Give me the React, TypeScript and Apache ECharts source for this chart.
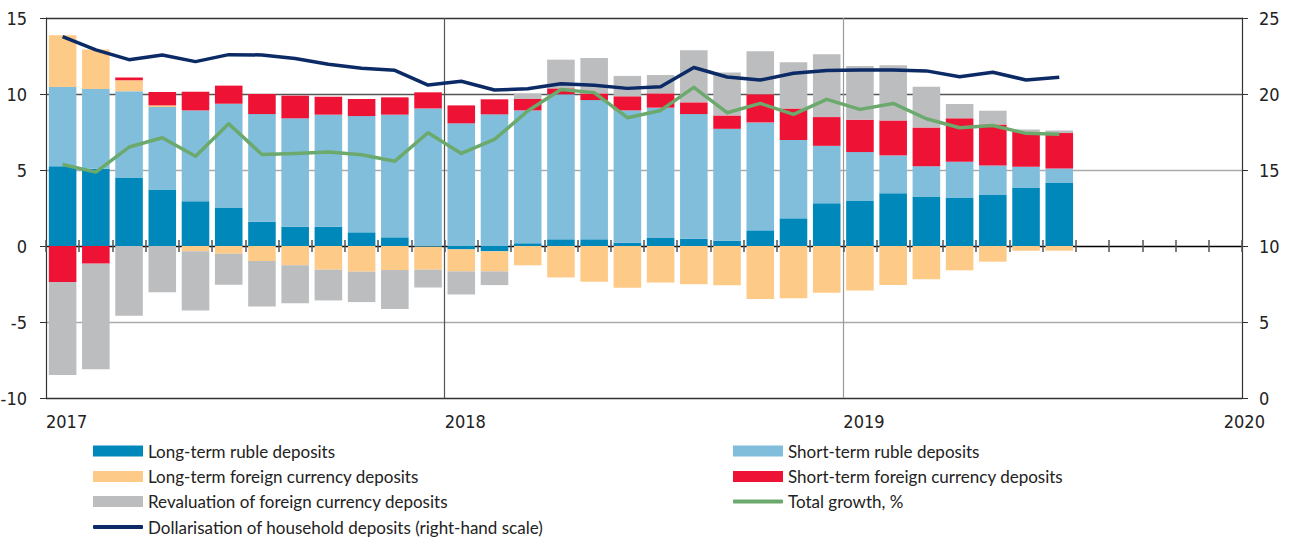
import React, { useEffect, useRef } from "react";
import * as echarts from "echarts";

const months = [
  "2017-01", "2017-02", "2017-03", "2017-04", "2017-05", "2017-06",
  "2017-07", "2017-08", "2017-09", "2017-10", "2017-11", "2017-12",
  "2018-01", "2018-02", "2018-03", "2018-04", "2018-05", "2018-06",
  "2018-07", "2018-08", "2018-09", "2018-10", "2018-11", "2018-12",
  "2019-01", "2019-02", "2019-03", "2019-04", "2019-05", "2019-06",
  "2019-07", "2019-08", "2019-09", "2019-10", "2019-11", "2019-12",
];

const yearLabels = ["2017", "2018", "2019", "2020"];

const longTermRuble = [
  5.25, 5.08, 4.51, 3.71, 2.95, 2.53, 1.6, 1.27, 1.27, 0.9, 0.57, -0.05,
  -0.22, -0.35, 0.18, 0.44, 0.44, 0.22, 0.53, 0.48, 0.35, 1.03, 1.82, 2.81,
  2.99, 3.47, 3.25, 3.19, 3.38, 3.85, 4.18,
];
const shortTermRuble = [
  5.21, 5.25, 5.67, 5.43, 5.97, 6.83, 7.08, 7.13, 7.37, 7.65, 8.07, 9.05,
  8.07, 8.66, 8.74, 9.54, 9.16, 8.7, 8.57, 8.2, 7.36, 7.1, 5.15, 3.78,
  3.19, 2.49, 2.0, 2.35, 1.92, 1.36, 0.92,
];
const longTermFx = [
  3.41, 2.59, 0.72, 0.11, -0.35, -0.51, -0.99, -1.27, -1.56, -1.69, -1.58, -1.51,
  -1.45, -1.32, -1.27, -2.07, -2.35, -2.75, -2.4, -2.51, -2.59, -3.49, -3.43, -3.08,
  -2.92, -2.57, -2.18, -1.6, -1.03, -0.31, -0.31,
];
const shortTermFx = [
  -2.37, -1.16, 0.18, 0.88, 1.23, 1.19, 1.32, 1.49, 1.18, 1.12, 1.14, 1.06,
  1.18, 0.99, 0.75, 0.39, 0.44, 0.93, 0.94, 0.77, 0.88, 1.85, 2.08, 1.89,
  2.13, 2.3, 2.55, 2.86, 2.7, 2.31, 2.33,
];
const revaluation = [
  -6.11, -6.95, -4.59, -3.05, -3.89, -2.04, -2.99, -2.49, -2.02, -2.0, -2.57, -1.17,
  -1.52, -0.9, 0.35, 1.89, 2.33, 1.34, 1.21, 3.43, 2.82, 2.83, 3.04, 4.14,
  3.54, 3.63, 2.68, 0.94, 0.9, 0.15, 0.17,
];
const totalGrowth = [
  5.36, 4.86, 6.51, 7.12, 5.91, 8.04, 6.02, 6.09, 6.18, 6.0, 5.58, 7.45,
  6.09, 7.01, 8.88, 10.29, 10.09, 8.44, 8.92, 10.44, 8.77, 9.38, 8.66, 9.65,
  8.99, 9.38, 8.37, 7.78, 7.93, 7.41, 7.36,
];
const dollarisation = [
  23.78, 22.9, 22.26, 22.57, 22.13, 22.59, 22.57, 22.33, 21.96, 21.69, 21.56, 20.59,
  20.84, 20.26, 20.35, 20.68, 20.57, 20.37, 20.48, 21.74, 21.12, 20.92, 21.36, 21.54,
  21.58, 21.58, 21.52, 21.14, 21.43, 20.92, 21.1,
];

const NAMES = {
  ltr: "Long-term ruble deposits",
  str: "Short-term ruble deposits",
  ltfx: "Long-term foreign currency deposits",
  stfx: "Short-term foreign currency deposits",
  rev: "Revaluation of foreign currency deposits",
  total: "Total growth, %",
  dollar: "Dollarisation of household deposits (right-hand scale)",
};

const COLORS = {
  ltr: "#0088BA",
  str: "#80BEDB",
  ltfx: "#FECA87",
  stfx: "#EE1234",
  rev: "#BCBDBF",
  total: "#6CA96C",
  dollar: "#0B2A66",
};

const AXIS_FONT = "'Liberation Sans Narrow', 'DejaVu Sans Condensed', Arial, sans-serif";
const LEGEND_FONT = "Lato, 'Liberation Sans', sans-serif";

export default function App() {
  const ref = useRef<HTMLDivElement>(null);

  useEffect(() => {
    if (!ref.current) return;
    const chart = echarts.init(ref.current, undefined, { renderer: "svg" });

    const bar = (key: keyof typeof NAMES, data: number[]) => ({
      name: NAMES[key],
      type: "bar",
      stack: "total",
      xAxisIndex: 0,
      yAxisIndex: 0,
      barCategoryGap: "17%",
      data,
      itemStyle: { color: COLORS[key] },
      emphasis: { disabled: true },
      z: 2,
    });

    const legendItem = (key: keyof typeof NAMES, left: number, centerY: number, isLine: boolean) => ({
      data: [{ name: NAMES[key], icon: isLine ? "roundRect" : "rect" }],
      left,
      top: centerY - 10,
      orient: "horizontal",
      itemWidth: 50,
      itemHeight: isLine ? 4 : 11,
      padding: 0,
      selectedMode: false,
      itemStyle: { color: COLORS[key], borderWidth: 0 },
      lineStyle: { width: 0 },
      textStyle: { fontFamily: LEGEND_FONT, fontSize: 17, color: "#222" },
    });

    const rows = [452.5, 478, 503, 528.5];

    const option: any = {
      animation: false,
      grid: {
        left: 46,
        right: 51,
        top: 18,
        bottom: 145,
        containLabel: false,
        outerBoundsMode: "none",
      },
      legend: [
        legendItem("ltr", 93, rows[0], false),
        legendItem("ltfx", 93, rows[1], false),
        legendItem("rev", 93, rows[2], false),
        legendItem("dollar", 93, rows[3], true),
        legendItem("str", 733, rows[0], false),
        legendItem("stfx", 733, rows[1], false),
        legendItem("total", 733, rows[2], true),
      ],
      xAxis: [
        {
          type: "category",
          data: months,
          position: "bottom",
          boundaryGap: true,
          axisLine: { show: true, onZero: true, onZeroAxisIndex: 0, lineStyle: { color: "#000", width: 1 } },
          axisTick: { show: true, interval: 0, length: 6, lineStyle: { color: "#555", width: 1.5 } },
          axisLabel: { show: false },
          splitLine: { show: false },
        },
        {
          type: "category",
          data: months,
          position: "top",
          boundaryGap: true,
          axisLine: { show: true, onZero: true, onZeroAxisIndex: 0, lineStyle: { color: "#000", width: 1 } },
          axisTick: { show: true, interval: 0, length: 6, lineStyle: { color: "#555", width: 1.5 } },
          axisLabel: { show: false },
          splitLine: { show: false },
        },
        {
          type: "value",
          position: "bottom",
          min: 0,
          max: 36,
          interval: 12,
          axisLine: { show: true, onZero: false, lineStyle: { color: "#333", width: 1 } },
          axisTick: { show: false },
          axisLabel: {
            show: true,
            customValues: [0, 12, 24, 35.45],
            formatter: (v: number) => yearLabels[Math.round(v / 12)],
            align: "left",
            margin: 14,
            fontFamily: AXIS_FONT,
            fontSize: 18,
            color: "#222",
          },
          splitLine: {
            show: true,
            lineStyle: { color: ["#333", "#555", "#9a9a9a", "#333"], width: 1.2 },
          },
        },
      ],
      yAxis: [
        {
          type: "value",
          min: -10,
          max: 15,
          interval: 5,
          position: "left",
          axisLine: { show: true, onZero: false, lineStyle: { color: "#333", width: 1 } },
          axisTick: { show: true, length: 6, lineStyle: { color: "#333" } },
          axisLabel: { margin: 19, fontFamily: AXIS_FONT, fontSize: 18, color: "#222" },
          splitLine: {
            show: true,
            lineStyle: { color: ["#333", "#aaa", "#000", "#aaa", "#555", "#333"], width: 1.3 },
          },
        },
        {
          type: "value",
          min: 0,
          max: 25,
          interval: 5,
          position: "right",
          axisLine: { show: true, onZero: false, lineStyle: { color: "#333", width: 1 } },
          axisTick: { show: true, length: 6, lineStyle: { color: "#333" } },
          axisLabel: { margin: 17, fontFamily: AXIS_FONT, fontSize: 18, color: "#222" },
          splitLine: { show: false },
        },
      ],
      series: [
        bar("ltr", longTermRuble),
        bar("str", shortTermRuble),
        bar("ltfx", longTermFx),
        bar("stfx", shortTermFx),
        bar("rev", revaluation),
        {
          name: NAMES.total,
          type: "line",
          xAxisIndex: 0,
          yAxisIndex: 0,
          data: totalGrowth,
          symbol: "none",
          showSymbol: false,
          lineStyle: { color: COLORS.total, width: 3.5, join: "round" },
          itemStyle: { color: COLORS.total },
          emphasis: { disabled: true },
          z: 5,
        },
        {
          name: NAMES.dollar,
          type: "line",
          xAxisIndex: 0,
          yAxisIndex: 1,
          data: dollarisation,
          symbol: "none",
          showSymbol: false,
          lineStyle: { color: COLORS.dollar, width: 3.5, join: "round" },
          itemStyle: { color: COLORS.dollar },
          emphasis: { disabled: true },
          z: 6,
        },
      ],
    };

    chart.setOption(option);
    return () => chart.dispose();
  }, []);

  return (
    <div
      ref={ref}
      style={{ position: "absolute", left: 0, top: 0, width: 1293, height: 543 }}
    />
  );
}
